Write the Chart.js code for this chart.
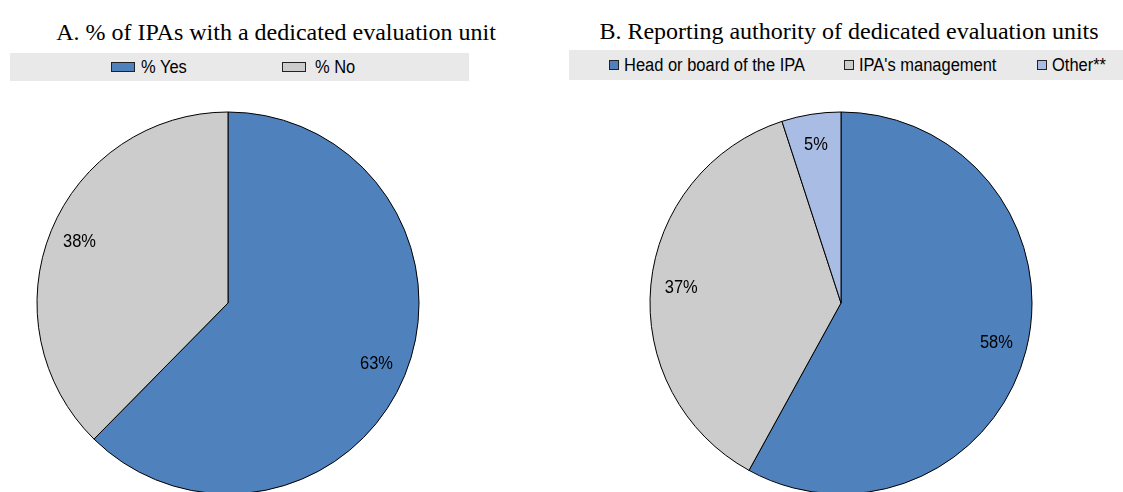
<!DOCTYPE html>
<html>
<head>
<meta charset="utf-8">
<script src="https://cdn.jsdelivr.net/npm/chart.js@4/dist/chart.umd.min.js"></script>
<style>
  html, body { margin:0; padding:0; width:1123px; height:492px; overflow:hidden; background:#fff; }
  .title { position:absolute; font-family:"Liberation Serif","Times New Roman",serif; font-size:24px; line-height:28px; color:#000; white-space:nowrap; transform:translateX(-50%); }
  .legbg { position:absolute; background:#e9e9e9; }
  .item { position:absolute; font-family:"Liberation Sans Narrow","Arial Narrow","Liberation Sans",sans-serif; font-size:18px; line-height:20px; color:#000; white-space:nowrap; transform-origin:left center; transform:scaleX(0.915); }
  .mk { position:absolute; box-sizing:border-box; border:1px solid #222; }
  canvas { position:absolute; }
</style>
</head>
<body>
<div id="root"></div>
<script>
// ---- Data ----
const titleA = "A. % of IPAs with a dedicated evaluation unit";
const labelsA = ["% Yes", "% No"];
const valuesA = [63, 38];
const colorsA = ["#4f81bd", "#cccccc"];

const titleB = "B. Reporting authority of dedicated evaluation units";
const labelsB = ["Head or board of the IPA", "IPA's management", "Other**"];
const valuesB = [58, 37, 5];
const colorsB = ["#4f81bd", "#cccccc", "#a9bce4"];

const root = document.getElementById('root');
function el(tag, cls, style, text) {
  const e = document.createElement(tag);
  if (cls) e.className = cls;
  Object.assign(e.style, style || {});
  if (text != null) e.textContent = text;
  root.appendChild(e);
  return e;
}

// Titles
el('div', 'title', {left:'276px', top:'18px'}, titleA);
el('div', 'title', {left:'849px', top:'17px'}, titleB);

// Legends
el('div', 'legbg', {left:'10px', top:'53px', width:'459px', height:'28px'});
el('div', 'legbg', {left:'569px', top:'50px', width:'554px', height:'30px'});

const legA = [{mx:111, tx:141}, {mx:282, tx:315}];
labelsA.forEach((t, i) => {
  el('div', 'mk', {left:legA[i].mx+'px', top:'62px', width:'24px', height:'10px', background:colorsA[i]});
  el('div', 'item', {left:legA[i].tx+'px', top:'57px'}, t);
});
const legB = [{mx:609, tx:624}, {mx:844, tx:859}, {mx:1037, tx:1052}];
labelsB.forEach((t, i) => {
  el('div', 'mk', {left:legB[i].mx+'px', top:'60px', width:'10px', height:'10px', background:colorsB[i]});
  el('div', 'item', {left:legB[i].tx+'px', top:'55px'}, t);
});

// Label plugin
const pctLabels = {
  id: 'pctLabels',
  afterDatasetsDraw(chart) {
    const ctx = chart.ctx;
    const meta = chart.getDatasetMeta(0);
    const ds = chart.data.datasets[0];
    meta.data.forEach((arc, i) => {
      const p = arc.getProps(['x','y','startAngle','endAngle','outerRadius'], true);
      const mid = (p.startAngle + p.endAngle) / 2;
      const r = p.outerRadius * 0.84;
      ctx.save();
      ctx.translate(p.x + Math.cos(mid) * r, p.y + Math.sin(mid) * r);
      ctx.scale(0.915, 1);
      ctx.font = '18px "Liberation Sans Narrow","Arial Narrow","Liberation Sans",sans-serif';
      ctx.fillStyle = '#000';
      ctx.textAlign = 'center';
      ctx.textBaseline = 'middle';
      ctx.fillText(ds.data[i] + '%', 0, 0);
      ctx.restore();
    });
  }
};

function makePie(left, top, labels, values, colors) {
  const c = document.createElement('canvas');
  c.width = 400; c.height = 400;
  c.style.left = left + 'px'; c.style.top = top + 'px';
  c.style.width = '400px'; c.style.height = '400px';
  root.appendChild(c);
  new Chart(c, {
    type: 'pie',
    data: { labels, datasets: [{ data: values, backgroundColor: colors, borderColor: '#000', borderWidth: 1 }] },
    options: {
      responsive: false, animation: false, events: [],
      radius: 191,
      plugins: { legend: { display: false }, title: { display: false }, tooltip: { enabled: false } }
    },
    plugins: [pctLabels]
  });
}
makePie(28, 103, labelsA, valuesA, colorsA);
makePie(641, 103, labelsB, valuesB, colorsB);
</script>
</body>
</html>
